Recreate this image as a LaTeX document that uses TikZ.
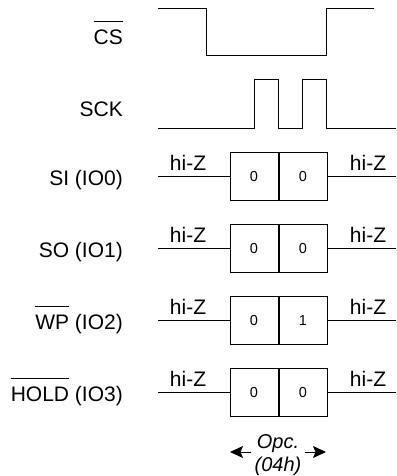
\documentclass[tikz,border=0pt]{standalone}
\usepackage{fontspec}
\setmainfont{Liberation Sans}
\usetikzlibrary{positioning,arrows.meta}

\newcommand{\negsig}[1]{$\overline{\mbox{#1}\rule{0pt}{22pt}}$}

\tikzset{
    wave/.style={line width=1pt},
    siglab/.style={anchor=base east, inner sep=0pt},
    hiz/.style={anchor=base, inner sep=0pt},
    cell/.style={draw, line width=1pt, minimum width=48pt, minimum height=48pt,
        inner sep=0pt, font=\fontsize{14.5}{14.5}\selectfont},
}

\begin{document}
\begin{tikzpicture}[x=1pt, y=-1pt, font=\fontsize{21}{24}\selectfont]
        \useasboundingbox (0,0) rectangle (396,476);
        % chip select and clock
        \node[siglab] (cslab) at (123,45) {\negsig{CS}};
        \draw[wave] (158,8.5) -- (206,8.5) -- (206,56) -- (326,56) -- (326,8.5) -- (374,8.5);
        \node[siglab] (scklab) at (123,117) {SCK};
        \draw[wave] (158,128) -- (254,128) -- (254,80) -- (278,80) -- (278,128)
            -- (302,128) -- (302,80) -- (326,80) -- (326,128) -- (396,128);
        % data lines
        \foreach \y/\name/\lab/\bit in {176.5/si/{SI (IO0)}/0, 248.5/so/{SO (IO1)}/0,
                320.5/wp/{\negsig{WP} (IO2)}/1, 392.5/hold/{\negsig{HOLD} (IO3)}/0}{
            \node[siglab] (\name lab) at (123,\y+9) {\lab};
            \node[cell] (\name0) at (254,\y) {0};
            \node[cell, right=0pt of \name0] (\name1) {\bit};
            \coordinate (\name l) at (158,\y);
            \coordinate (\name r) at (396,\y);
            \draw[wave] (\name l) -- (\name0.west);
            \draw[wave] (\name1.east) -- (\name r);
            \node[hiz] (\name hl) at (188,\y-6) {hi-Z};
            \node[hiz] (\name hr) at (368,\y-6) {hi-Z};
        }
        % opcode width
        \node[align=center, inner sep=3pt, font=\fontsize{20}{23}\selectfont\itshape] (opc) at (278,455) {Opc.\\(04h)};
        \coordinate (opl) at (230,452);
        \coordinate (opr) at (326,452);
        \draw[line width=1pt, -{Stealth[length=13pt, width=12pt, inset=2.5pt]}] (opc.west |- opl) -- (opl);
        \draw[line width=1pt, -{Stealth[length=13pt, width=12pt, inset=2.5pt]}] (opc.east |- opr) -- (opr);
\end{tikzpicture}
\end{document}
